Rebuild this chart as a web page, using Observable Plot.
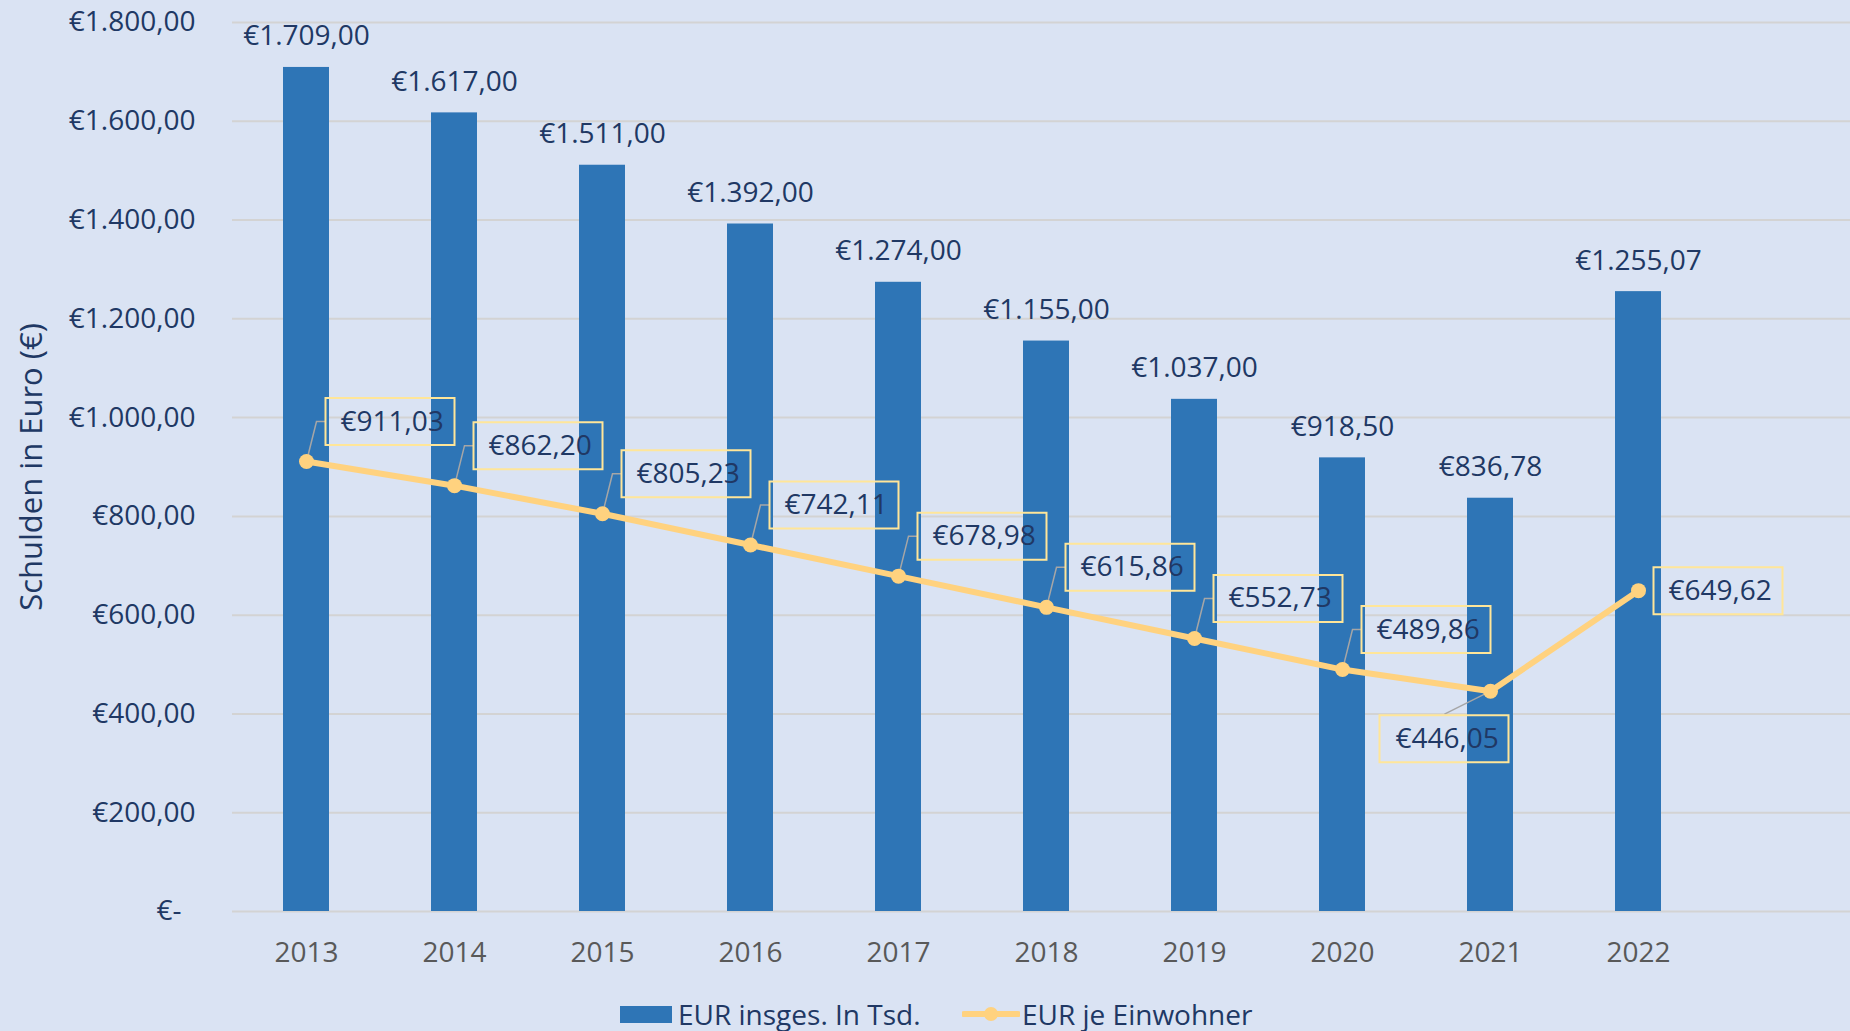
<!DOCTYPE html>
<html><head><meta charset="utf-8">
<script src="https://cdn.jsdelivr.net/npm/d3@7"></script>
<script src="https://cdn.jsdelivr.net/npm/@observablehq/plot@0.6"></script>
<style>
html,body{margin:0;padding:0;background:#DAE3F3;}
body{width:1850px;height:1031px;overflow:hidden;position:relative;font-family:"Open Sans",sans-serif;}
#chart svg{display:block;}
.lg{position:absolute;top:996px;height:36px;display:flex;align-items:center;font-size:28px;color:#203864;white-space:nowrap;line-height:36px;}
</style></head>
<body>
<div id="chart"></div>
<div id="legend"></div>
<script>
const years = ["2013","2014","2015","2016","2017","2018","2019","2020","2021","2022"];
const totalDebt = [1709.00, 1617.00, 1511.00, 1392.00, 1274.00, 1155.00, 1037.00, 918.50, 836.78, 1255.07];
const perCapita = [911.03, 862.20, 805.23, 742.11, 678.98, 615.86, 552.73, 489.86, 446.05, 649.62];
const yTicks = [0, 200, 400, 600, 800, 1000, 1200, 1400, 1600, 1800];
const seriesNames = ["EUR insges. In Tsd.", "EUR je Einwohner"];
const axisTitle = "Schulden in Euro (€)";

const NAVY = "#203864", BAR = "#2E75B6", LINE = "#FFD27F", BOX = "#FFE699", LEAD = "#A6A6A6";
const de = d3.formatLocale({decimal: ",", thousands: ".", grouping: [3], currency: ["€", ""]});
const money = de.format("$,.2f");
const yFmt = v => v === 0 ? "€-\u2002" : money(v);

const rows = years.map((year, i) => ({year, total: totalDebt[i], per: perCapita[i]}));
const xDomain = [...years, " "];

const rectSym = (x0, y0, w, h) => ({draw(ctx) { ctx.rect(x0, y0, w, h); }});
const pathSym = pts => ({draw(ctx) { ctx.moveTo(pts[0][0], pts[0][1]); for (const p of pts.slice(1)) ctx.lineTo(p[0], p[1]); }});

const BW = 129, BH = 47;
const std = (d, i) => i < 8, low = (d, i) => i === 8, right = (d, i) => i === 9;
const SDX = 19, SDY = -40;

const chart = Plot.plot({
  width: 1850, height: 975,
  marginTop: 22, marginBottom: 64, marginLeft: 232, marginRight: 0,
  style: {background: "transparent", fontFamily: "Open Sans", fontSize: "28px", color: NAVY, overflow: "visible"},
  x: {domain: xDomain, range: [232, 1860], paddingInner: 0.69, paddingOuter: 0.345, label: null},
  y: {domain: [0, 1800], label: null},
  marks: [
    Plot.gridY(yTicks, {stroke: "#D3D3D3", strokeOpacity: 1, strokeWidth: 2}),
    Plot.axisY(yTicks, {tickSize: 0, tickPadding: 37, tickFormat: yFmt, fill: NAVY, fontSize: 28, label: null}),
    Plot.axisX({tickSize: 0, tickPadding: 31, tickFormat: d => d.trim(), fill: "#595959", fontSize: 28, label: null}),
    Plot.barY(rows, {x: "year", y: "total", fill: BAR}),
    Plot.text(rows, {x: "year", y: "total", text: d => money(d.total), dy: -31, fill: NAVY, fontSize: 28}),
    Plot.line(rows, {x: "year", y: "per", stroke: LINE, strokeWidth: 6}),
    Plot.dot(rows, {filter: std, x: "year", y: "per", r: 5, symbol: pathSym([[0, 0], [10, SDY], [SDX, SDY]]), fill: "none", stroke: LEAD, strokeWidth: 1.5}),
    Plot.dot(rows, {filter: low, x: "year", y: "per", r: 5, symbol: pathSym([[0, 0], [-46, 23]]), fill: "none", stroke: LEAD, strokeWidth: 1.5}),
    Plot.dot(rows, {x: "year", y: "per", r: 7.5, fill: LINE}),
    Plot.dot(rows, {filter: std, x: "year", y: "per", r: 5, symbol: rectSym(SDX, SDY - BH / 2, BW, BH), fill: "none", stroke: BOX, strokeWidth: 2}),
    Plot.dot(rows, {filter: low, x: "year", y: "per", r: 5, symbol: rectSym(-111, 47.5 - BH / 2, BW, BH), fill: "none", stroke: BOX, strokeWidth: 2}),
    Plot.dot(rows, {filter: right, x: "year", y: "per", r: 5, symbol: rectSym(15, -BH / 2, BW, BH), fill: "none", stroke: BOX, strokeWidth: 2}),
    Plot.text(rows, {filter: std, x: "year", y: "per", text: d => money(d.per), dx: SDX + 15, dy: SDY, textAnchor: "start", fill: NAVY, fontSize: 28}),
    Plot.text(rows, {filter: low, x: "year", y: "per", text: d => money(d.per), dx: -95, dy: 47.5, textAnchor: "start", fill: NAVY, fontSize: 28}),
    Plot.text(rows, {filter: right, x: "year", y: "per", text: d => money(d.per), dx: 30, dy: 0, textAnchor: "start", fill: NAVY, fontSize: 28}),
    Plot.text([axisTitle], {frameAnchor: "left", text: d => d, rotate: -90, textAnchor: "middle", dx: -200, fill: NAVY, fontSize: 31})
  ]
});
document.getElementById("chart").append(chart);

const lg = document.getElementById("legend");
lg.innerHTML = `
<div class="lg" style="left:620px"><span style="display:inline-block;width:52px;height:17px;background:${BAR};margin-right:6px"></span>${seriesNames[0]}</div>
<div class="lg" style="left:962px"><svg width="58" height="20" style="margin-right:2px"><line x1="2" y1="10" x2="56" y2="10" stroke="${LINE}" stroke-width="6" stroke-linecap="round"/><circle cx="29" cy="10" r="7" fill="${LINE}"/></svg>${seriesNames[1]}</div>`;
</script>
</body></html>
